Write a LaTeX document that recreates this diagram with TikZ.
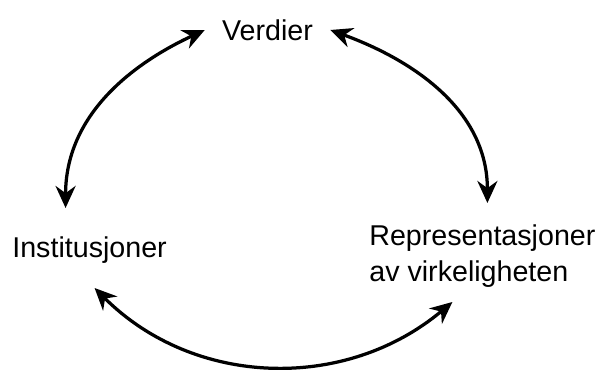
\documentclass[tikz,border=0pt]{standalone}
\usepackage{fontspec}
\setmainfont{Liberation Sans}
\usetikzlibrary{arrows.meta}

\newcommand{\bendarrow}[4]{\draw[arrow] #1 to[out=#3,in=#4] #2;}

\begin{document}
\begin{tikzpicture}
                [label/.style={inner sep=0pt, font=\fontsize{16.3}{20.5}\selectfont},
                arrow/.style={{Stealth[length=0.44cm,width=0.4cm]}-{Stealth[length=0.44cm,width=0.4cm]},line width=0.065cm},
                ]
                \useasboundingbox (0,0) rectangle (12.06,-7.4);
                \node[label, inner xsep=0.34cm] (verdier) at (5.35,-0.6) {Verdier};
                \node[label, anchor=west] (inst) at (0.24,-5.0) {Institusjoner};
                \node[label, anchor=west, align=left] (repr) at (7.38,-5.13) {Representasjoner\\av virkeligheten};
                \bendarrow{(verdier.west)}{([shift={(-0.48,0.84)}]inst.center)}{205}{90}
                \bendarrow{(verdier.east)}{([shift={(0.1,1.07)}]repr.center)}{-20}{90}
                \bendarrow{([shift={(0.1,-0.76)}]inst.center)}{([shift={(-0.6,-0.91)}]repr.center)}{-45}{220}
            \end{tikzpicture}
\end{document}
